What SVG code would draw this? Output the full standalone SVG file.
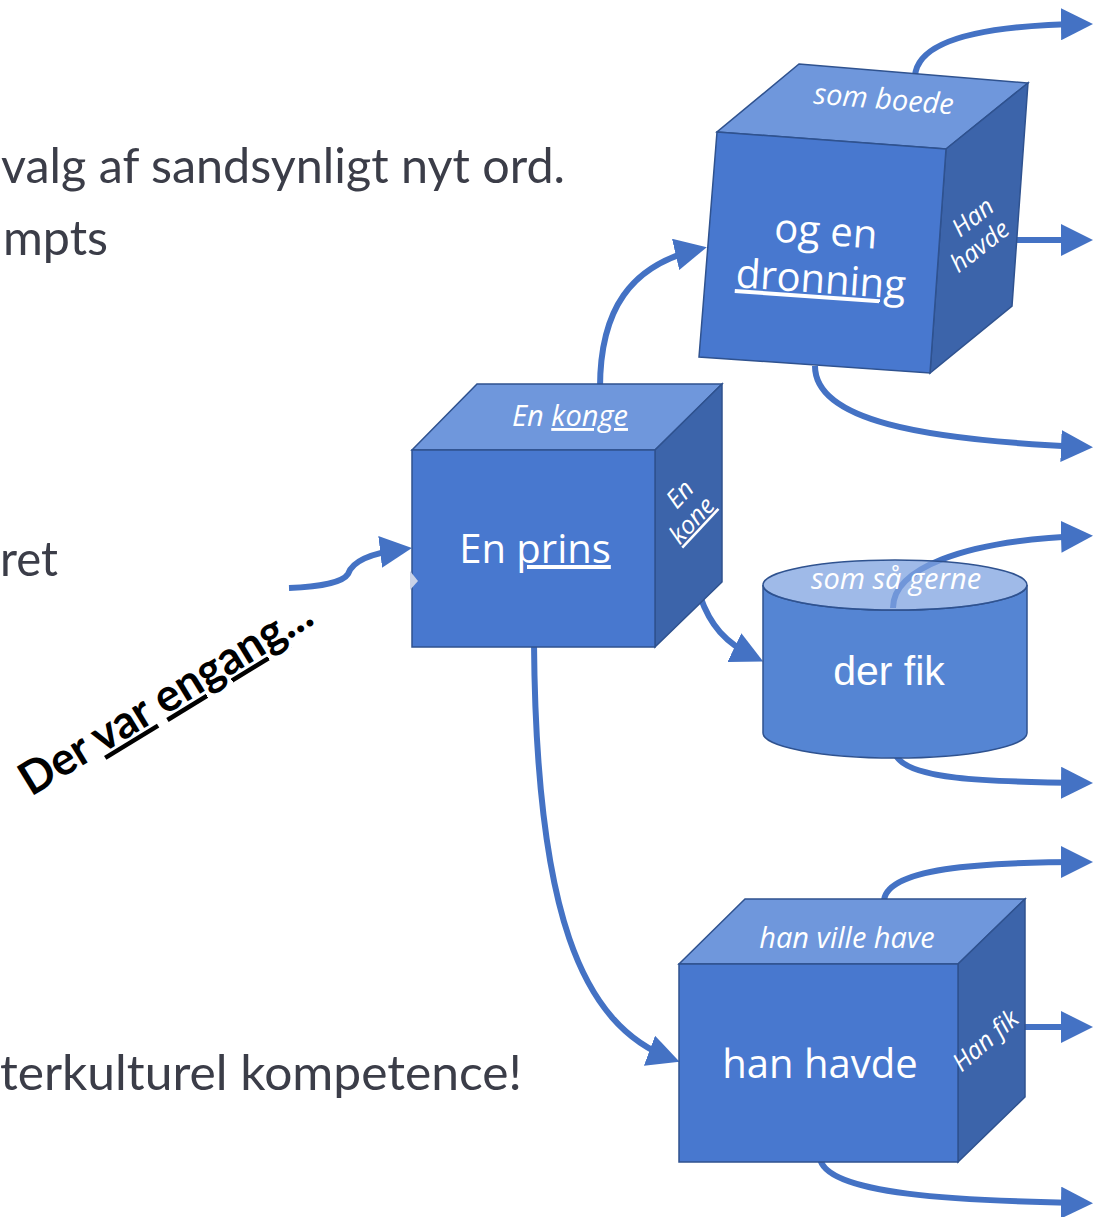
<svg xmlns="http://www.w3.org/2000/svg" width="1094" height="1217" viewBox="0 0 1094 1217">
<style>
.body{font-family:Lato,"Open Sans","Liberation Sans",sans-serif;font-size:49px;fill:#3B3D48}
.front{fill:#4878CF;stroke:#2F528F;stroke-width:1.5}
.top{fill:#6F97DC;stroke:#2F528F;stroke-width:1.5}
.side{fill:#3C64AA;stroke:#2F528F;stroke-width:1.5}
.main{font-family:"Open Sans","Liberation Sans",sans-serif;font-size:40px;fill:#FFFFFF;text-anchor:middle}
.lbl{font-family:"Open Sans","Liberation Sans",sans-serif;font-style:italic;font-size:29px;fill:#FFFFFF;text-anchor:middle}
.slbl{font-family:"Open Sans","Liberation Sans",sans-serif;font-style:italic;font-size:25px;fill:#FFFFFF;text-anchor:middle}
.conn{fill:none;stroke:#4472C4;stroke-width:6;marker-end:url(#ah)}
.ul{text-decoration:underline}
</style>
<defs>
<marker id="ah" markerUnits="userSpaceOnUse" markerWidth="32" markerHeight="32" refX="24" refY="16" orient="auto">
<path d="M0,0 L32,16 L0,32 z" fill="#4472C4"/>
</marker>
</defs>
<rect width="1094" height="1217" fill="#FFFFFF"/>

<g id="left-text">
<text class="body" x="1" y="183" textLength="564" lengthAdjust="spacingAndGlyphs">valg af sandsynligt nyt ord.</text>
<text class="body" x="3" y="255" textLength="105" lengthAdjust="spacingAndGlyphs">mpts</text>
<text class="body" x="0" y="576" textLength="58" lengthAdjust="spacingAndGlyphs">ret</text>
<text class="body" x="0" y="1090" textLength="522" lengthAdjust="spacingAndGlyphs">terkulturel kompetence!</text>
<text x="31" y="797" transform="rotate(-31.4 31 797)" font-family="Lato,'Open Sans',sans-serif" font-weight="bold" font-size="46" fill="#000000" textLength="334" lengthAdjust="spacingAndGlyphs">Der <tspan class="ul">var</tspan> <tspan class="ul">engang</tspan>...</text>
</g>

<g id="connectors">
<path class="conn" d="M289,588 C320,587 343,582 348,574 C352,562 370,553 404,549"/>
<path class="conn" d="M600,388 C600,310 630,265 699,249"/>
<path class="conn" d="M700,596 C710,625 725,643 756,658"/>
<path class="conn" d="M534,643 C536,910 580,1025 672,1059"/>
<path class="conn" d="M915,76 C918,38 990,25 1085,24"/>
<path class="conn" d="M1008,240 L1085,240"/>
<path class="conn" d="M815,366 C815,420 920,440 1085,447"/>
<path class="conn" d="M893,608 C893,570 960,540 1085,536"/>
<path class="conn" d="M895,752 C900,780 990,782 1085,783"/>
<path class="conn" d="M884,902 C884,868 980,862 1085,862"/>
<path class="conn" d="M1020,1027 L1085,1027"/>
<path class="conn" d="M820,1158 C825,1195 960,1201 1085,1203"/>
</g>

<g id="node-dronning">
<polygon class="top" points="799,64 1028,83 946,149 717,132"/>
<polygon class="side" points="946,149 1028,83 1012,306 930,373"/>
<polygon class="front" points="717,132 946,149 930,373 699,357"/>
<text class="lbl" x="883" y="109" transform="rotate(4.5 883 109)">som boede</text>
<text class="main" x="825" y="245" transform="rotate(4 825 245)">og en</text>
<text class="main ul" x="820" y="293" transform="rotate(4 820 293)">dronning</text>
<text class="slbl" x="978" y="224" transform="rotate(-38 978 224)">Han</text>
<text class="slbl" x="985" y="253" transform="rotate(-38 985 253)">havde</text>
</g>

<g id="node-prins">
<polygon class="top" points="477,384 722,384 655,450 412,450"/>
<polygon class="side" points="655,450 722,384 722,582 655,647"/>
<rect class="front" x="412" y="450" width="243" height="197"/>
<polygon points="410,571 418,581 410,590" fill="#C9D3E8"/>
<text class="lbl" x="570" y="426">En <tspan class="ul">konge</tspan></text>
<text class="main" x="535" y="563">En <tspan class="ul">prins</tspan></text>
<text class="slbl" x="686" y="500" transform="rotate(-47 686 500)">En</text>
<text class="slbl ul" x="698" y="526" transform="rotate(-47 698 526)">kone</text>
</g>

<g id="node-derfik">
<path d="M763,585 L763,733 A132,25 0 0 0 1027,733 L1027,585 A132,25 0 0 1 763,585 z" fill="#5585D3" stroke="#2F528F" stroke-width="1.5"/>
<ellipse cx="895" cy="585" rx="132" ry="25" fill="#7FA3E0" fill-opacity="0.75" stroke="#2F528F" stroke-width="1.5"/>
<text class="lbl" x="896" y="589">som så gerne</text>
<text x="889" y="685" font-family="'Liberation Sans',Arial,sans-serif" font-size="41" fill="#FFFFFF" text-anchor="middle">der fik</text>
</g>

<g id="node-hanhavde">
<polygon class="top" points="745,899 1025,899 958,964 679,964"/>
<polygon class="side" points="958,964 1025,899 1025,1097 958,1162"/>
<rect class="front" x="679" y="964" width="279" height="198"/>
<text class="lbl" x="847" y="948">han ville have</text>
<text class="main" x="820" y="1078">han havde</text>
<text class="slbl" x="991" y="1047" transform="rotate(-41 991 1047)">Han fik</text>
</g>
</svg>
